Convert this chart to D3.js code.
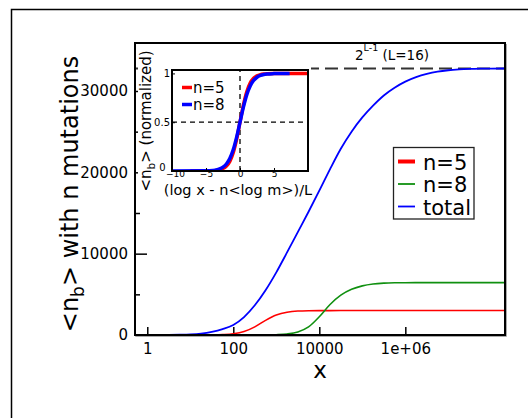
<!DOCTYPE html>
<html><head><meta charset="utf-8">
<script src="https://cdn.jsdelivr.net/npm/d3@7"></script>
<style>
html,body{margin:0;padding:0;background:#fff;}
svg{display:block;font-family:"DejaVu Sans",sans-serif;}
</style></head>
<body>
<svg id="chart" width="528" height="418"></svg>
<script>
// ---- data ----
const logX = [-0.29,0,0.25,0.5,0.75,1,1.25,1.5,1.75,2,2.25,2.5,2.75,3,3.25,3.5,3.75,4,4.25,4.5,4.75,5,5.25,5.5,5.75,6,6.25,6.5,6.75,7,7.25,7.5,7.75,8,8.32];
const totalVals = [0,2,5,12,30,70,170,380,720,1230,2200,3650,5500,7700,10150,12650,15150,17750,20400,22900,25000,26750,28200,29450,30400,31150,31700,32100,32380,32550,32650,32710,32745,32760,32768];
const n5Vals = [0,0,0,0,0,2,8,20,55,150,420,1000,1800,2450,2800,2950,2990,3000,3002,3003,3003,3003,3003,3003,3003,3003,3003,3003,3003,3003,3003,3003,3003,3003,3003];
const n8Vals = [0,0,0,0,0,0,0,0,0,0,0,0,8,40,130,380,1000,2250,3750,4900,5620,6040,6270,6375,6418,6430,6435,6435,6435,6435,6435,6435,6435,6435,6435];
const plateau = 32768;
const xTickVals = [1,100,10000,1e6];
const xTickLabels = ["1","100","10000","1e+06"];
const yTickVals = [0,10000,20000,30000];
const yMinorVals = [5000,15000,25000];
const legendNames = ["n=5","n=8","total"];
const legendColors = ["#ff0000","#109010","#0000ff"];

const insetU5 = [-7.3,-5,-4,-3.5,-3,-2.5,-2,-1.5,-1,-0.5,0,0.5,1,1.5,2,2.5,3,3.5,4,5,7,10];
const insetN5 = [0,0.001,0.003,0.006,0.012,0.025,0.05,0.099,0.187,0.324,0.5,0.676,0.813,0.901,0.95,0.975,0.988,0.994,0.997,0.999,1,1];
const insetU8 = [-10,-5,-4,-3.5,-3,-2.5,-2,-1.5,-1,-0.5,0,0.5,1,1.5,2,2.5,3,3.5,4,5,6,7.3];
const insetN8 = [0,0.002,0.006,0.011,0.021,0.039,0.072,0.128,0.217,0.345,0.5,0.655,0.783,0.872,0.928,0.961,0.979,0.989,0.994,0.998,0.9995,1];
const insetXTicks = [-10,-5,0,5];
const insetYTicks = [0,0.5,1];
const insetYLabels = ["0","0.5","1"];

// ---- layout ----
const svg = d3.select("#chart");
const L = 135, R = 505, T = 43, B = 335;
const x = d3.scaleLog().domain([0.518, 2.08e8]).range([L, R]);
const y = d3.scaleLinear().domain([0, 35900]).range([B, T]);

// outer frame (L-shaped)
svg.append("path").attr("d","M11.5,418V9.5H528").attr("fill","none").attr("stroke","#000").attr("stroke-width",1.5);

// clip
svg.append("clipPath").attr("id","mainclip").append("rect").attr("x",L).attr("y",T).attr("width",R-L).attr("height",B-T);

// y axis ticks (inward)
const yAx = svg.append("g").attr("transform",`translate(${L},0)`)
  .call(d3.axisLeft(y).tickValues(yTickVals).tickSize(-12).tickPadding(7).tickFormat(d3.format("d")));
yAx.select(".domain").remove();
yAx.selectAll("line").attr("stroke","#000").attr("stroke-width",1.5);
yAx.selectAll("text").attr("font-size",15).attr("font-family","DejaVu Sans").attr("fill","#000");
const yMin = svg.append("g").attr("transform",`translate(${L},0)`)
  .call(d3.axisLeft(y).tickValues(yMinorVals).tickSize(-5).tickFormat(""));
yMin.select(".domain").remove();
yMin.selectAll("line").attr("stroke","#000").attr("stroke-width",1.5);

// x axis ticks (inward)
const xAx = svg.append("g").attr("transform",`translate(0,${B})`)
  .call(d3.axisBottom(x).tickValues(xTickVals).tickSize(-8).tickPadding(8).tickFormat((d,i)=>xTickLabels[i]));
xAx.select(".domain").remove();
xAx.selectAll("line").attr("stroke","#000").attr("stroke-width",1.5);
xAx.selectAll("text").attr("font-size",15).attr("font-family","DejaVu Sans").attr("fill","#000");

// plateau dashed line
svg.append("line").attr("x1",L).attr("x2",R).attr("y1",y(plateau)).attr("y2",y(plateau))
  .attr("stroke","#333").attr("stroke-width",2).attr("stroke-dasharray","13,6");

// curves
const line = d3.line().x((d,i)=>x(Math.pow(10,logX[i]))).y(d=>y(d)).curve(d3.curveMonotoneX);
const cg = svg.append("g").attr("clip-path","url(#mainclip)");
cg.append("path").attr("d",line(n5Vals)).attr("fill","none").attr("stroke","#ff0000").attr("stroke-width",1.6);
cg.append("path").attr("d",line(n8Vals)).attr("fill","none").attr("stroke","#109010").attr("stroke-width",1.6);
cg.append("path").attr("d",line(totalVals)).attr("fill","none").attr("stroke","#0000ff").attr("stroke-width",1.8);

// main frame
svg.append("path").attr("d",`M${R+1.5},${T+1}V${B+1.5}H${L+1}`).attr("fill","none").attr("stroke","#aaa").attr("stroke-width",1);
svg.append("rect").attr("x",L).attr("y",T).attr("width",R-L).attr("height",B-T)
  .attr("fill","none").attr("stroke","#000").attr("stroke-width",2);

// annotation 2^{L-1} (L=16)
const ann = svg.append("text").attr("x",355).attr("y",60).attr("font-size",13.5).attr("fill","#000");
ann.append("tspan").text("2");
ann.append("tspan").attr("font-size",9.5).attr("dy",-9).text("L-1");
ann.append("tspan").attr("dy",9).text("\u00a0(L=16)");

// ---- inset ----
svg.append("rect").attr("x",138).attr("y",44).attr("width",173).attr("height",154).attr("fill","#fff");
const iL=172, iR=308, iT=70, iB=171;
const ix = d3.scaleLinear().domain([-10,10]).range([iL,iR]);
const iy = d3.scaleLinear().domain([0,1.035]).range([iB,iT]);
svg.append("clipPath").attr("id","insetclip").append("rect").attr("x",iL).attr("y",iT).attr("width",iR-iL).attr("height",iB-iT);

// dashed guides
svg.append("line").attr("x1",iL).attr("x2",iR).attr("y1",iy(0.5)).attr("y2",iy(0.5))
  .attr("stroke","#000").attr("stroke-width",1.3).attr("stroke-dasharray","5,4");
svg.append("line").attr("x1",ix(0)).attr("x2",ix(0)).attr("y1",iB).attr("y2",iT)
  .attr("stroke","#000").attr("stroke-width",1.3).attr("stroke-dasharray","5,4");

const ig = svg.append("g").attr("clip-path","url(#insetclip)");
const l5 = d3.line().x((d,i)=>ix(insetU5[i])).y(d=>iy(d)).curve(d3.curveMonotoneX);
const l8 = d3.line().x((d,i)=>ix(insetU8[i])).y(d=>iy(d)).curve(d3.curveMonotoneX);
ig.append("path").attr("d",l5(insetN5)).attr("fill","none").attr("stroke","#ff0000").attr("stroke-width",3.5);
ig.append("path").attr("d",l8(insetN8)).attr("fill","none").attr("stroke","#0000ff").attr("stroke-width",3.5);

// inset axes
const ixAx = svg.append("g").attr("transform",`translate(0,${iB})`)
  .call(d3.axisBottom(ix).tickValues(insetXTicks).tickSize(-3).tickPadding(0).tickFormat(d3.format("d")));
ixAx.select(".domain").remove();
ixAx.selectAll("line").attr("stroke","#000");
ixAx.selectAll("text").attr("font-size",9).attr("font-family","DejaVu Sans").attr("fill","#000");
ixAx.selectAll(".tick").filter(d=>d===-10).select("text").attr("dx",3);
const iyAx = svg.append("g").attr("transform",`translate(${iL},0)`)
  .call(d3.axisLeft(iy).tickValues(insetYTicks).tickSize(-3).tickPadding(2).tickFormat((d,i)=>insetYLabels[i]));
iyAx.select(".domain").remove();
iyAx.selectAll("line").attr("stroke","#000");
iyAx.selectAll("text").attr("font-size",10).attr("font-family","DejaVu Sans").attr("fill","#000");
iyAx.selectAll(".tick").filter(d=>d===0).select("text").attr("dy","-0.1em").attr("x",-6.5);
svg.append("rect").attr("x",iL).attr("y",iT).attr("width",iR-iL).attr("height",iB-iT)
  .attr("fill","none").attr("stroke","#000").attr("stroke-width",2);

// inset legend
[["n=5","#ff0000",87.5],["n=8","#0000ff",104.5]].forEach(([t,c,yy])=>{
  svg.append("line").attr("x1",182).attr("x2",192).attr("y1",yy).attr("y2",yy).attr("stroke",c).attr("stroke-width",3.5);
  svg.append("text").attr("x",193).attr("y",yy+5).attr("font-size",15).attr("fill","#000").text(t);
});

// inset labels
svg.append("text").attr("x",238).attr("y",195).attr("text-anchor","middle").attr("font-size",14.5).attr("fill","#000")
  .text("(log x - n<log m>)/L");
const iyl = svg.append("text").attr("transform","translate(151,121) rotate(-90)").attr("text-anchor","middle")
  .attr("font-size",15).attr("fill","#000");
iyl.append("tspan").text("<n");
iyl.append("tspan").attr("font-size",10.5).attr("dy",4).text("b");
iyl.append("tspan").attr("dy",-4).text("> (normalized)");

// ---- main legend ----
svg.append("rect").attr("x",393.5).attr("y",147.5).attr("width",80.5).attr("height",71.5)
  .attr("fill","#fff").attr("stroke","#222").attr("stroke-width",1.3);
legendNames.forEach((nm,i)=>{
  const yy = 161.5 + i*22.5;
  svg.append("line").attr("x1",398).attr("x2",415).attr("y1",yy).attr("y2",yy)
    .attr("stroke",legendColors[i]).attr("stroke-width",i===0?4:1.8);
  svg.append("text").attr("x",423).attr("y",yy+8).attr("font-size",21).attr("fill","#000").text(nm);
});

// axis titles
svg.append("text").attr("x",320).attr("y",378).attr("text-anchor","middle").attr("font-size",23).attr("fill","#000").text("x");
const yl = svg.append("text").attr("transform","translate(78,194) rotate(-90)").attr("text-anchor","middle")
  .attr("font-size",24).attr("fill","#000");
yl.append("tspan").text("<n");
yl.append("tspan").attr("font-size",17).attr("dy",6).text("b");
yl.append("tspan").attr("dy",-6).text("> with n mutations");
</script>
</body></html>
